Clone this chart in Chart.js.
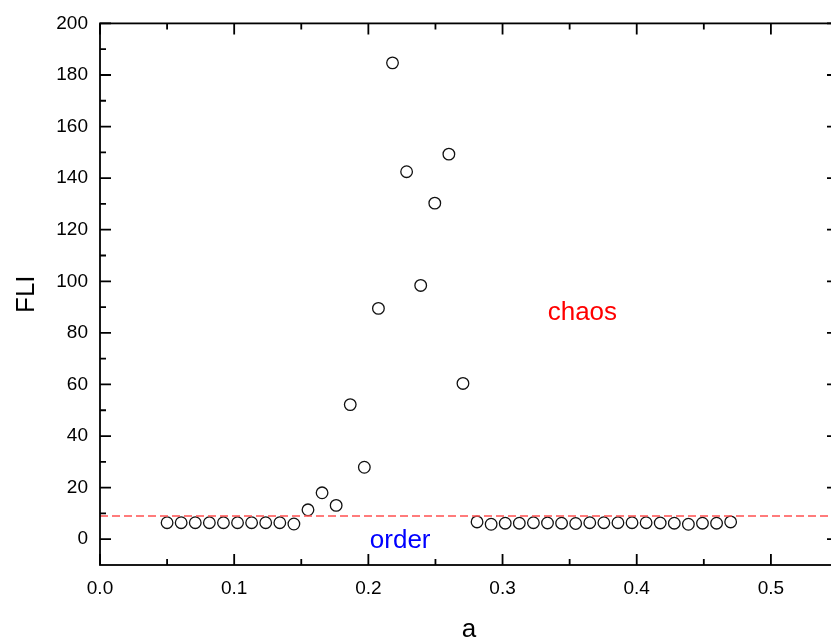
<!DOCTYPE html>
<html>
<head>
<meta charset="utf-8">
<script src="https://cdn.jsdelivr.net/npm/chart.js@4/dist/chart.umd.min.js"></script>
<style>
  html, body { margin: 0; padding: 0; background: #fff; overflow: hidden; }
  #wrap { width: 850px; height: 642px; position: relative; }
</style>
</head>
<body>
<div id="wrap"><canvas id="myChart"></canvas></div>
<script>
'use strict';

// values
let aValues = [0.05, 0.0605, 0.071, 0.0815, 0.092, 0.1025, 0.113, 0.1235, 0.134, 0.1445,
  0.155, 0.1655, 0.176, 0.1865, 0.197, 0.2075, 0.218, 0.2285, 0.239, 0.2495,
  0.26, 0.2705, 0.281, 0.2915, 0.302, 0.3125, 0.323, 0.3335, 0.344, 0.3545,
  0.365, 0.3755, 0.386, 0.3965, 0.407, 0.4175, 0.428, 0.4385, 0.449, 0.4595, 0.47];
let fliValues = [6.4, 6.4, 6.4, 6.4, 6.4, 6.4, 6.4, 6.4, 6.4, 5.9,
  11.4, 18.0, 13.1, 52.2, 27.9, 89.5, 184.7, 142.5, 98.4, 130.3,
  149.3, 60.4, 6.7, 5.8, 6.2, 6.2, 6.4, 6.3, 6.2, 6.1,
  6.4, 6.4, 6.4, 6.4, 6.4, 6.3, 6.2, 5.8, 6.2, 6.2, 6.7];
let threshold = 9;

let xTicks = [0, 0.1, 0.2, 0.3, 0.4, 0.5];
let xMinorTicks = [0.05, 0.15, 0.25, 0.35, 0.45];
let yTicks = [0, 20, 40, 60, 80, 100, 120, 140, 160, 180, 200];
let yMinorTicks = [10, 30, 50, 70, 90, 110, 130, 150, 170, 190];

let notes = [
  {text: 'chaos', a: 0.3595, fli: 87.7, color: '#ff0000'},
  {text: 'order', a: 0.2237, fli: -0.5, color: '#0000ff'}
];

let points = [];
for (let i = 0; i < aValues.length; i++) {
  points.push({x: aValues[i], y: fliValues[i]});
}

// frame with inward ticks on all four sides
let framePlugin = {
  id: 'frame',
  afterDraw(chart) {
    let ctx = chart.ctx;
    let area = chart.chartArea;
    let xs = chart.scales.x;
    let ys = chart.scales.y;
    ctx.save();
    ctx.strokeStyle = '#000';
    ctx.lineWidth = 1.8;
    ctx.strokeRect(area.left, area.top, area.right - area.left, area.bottom - area.top);
    function xTick(v, len) {
      let px = xs.getPixelForValue(v);
      ctx.beginPath();
      ctx.moveTo(px, area.bottom); ctx.lineTo(px, area.bottom - len);
      ctx.moveTo(px, area.top); ctx.lineTo(px, area.top + len);
      ctx.stroke();
    }
    function yTick(v, len) {
      let py = ys.getPixelForValue(v);
      ctx.beginPath();
      ctx.moveTo(area.left, py); ctx.lineTo(area.left + len, py);
      ctx.moveTo(area.right, py); ctx.lineTo(area.right - len, py);
      ctx.stroke();
    }
    xTicks.forEach(v => xTick(v, 11));
    xMinorTicks.forEach(v => xTick(v, 6));
    yTicks.forEach(v => yTick(v, 11));
    yMinorTicks.forEach(v => yTick(v, 6));
    ctx.restore();
  }
};

let notesPlugin = {
  id: 'notes',
  afterDatasetsDraw(chart) {
    let ctx = chart.ctx;
    ctx.save();
    ctx.font = '26px "Liberation Sans", Arial, sans-serif';
    ctx.textAlign = 'center';
    ctx.textBaseline = 'middle';
    notes.forEach(n => {
      ctx.fillStyle = n.color;
      ctx.fillText(n.text, chart.scales.x.getPixelForValue(n.a), chart.scales.y.getPixelForValue(n.fli));
    });
    ctx.restore();
  }
};

let ctx = document.getElementById('myChart').getContext('2d');
let myChart = new Chart(ctx, {
  type: 'scatter',
  data: {
    datasets: [{
      label: 'FLI',
      data: points,
      order: 1,
      pointStyle: 'circle',
      pointRadius: 5.8,
      pointBorderWidth: 1.3,
      pointBorderColor: '#111',
      pointBackgroundColor: 'rgba(0,0,0,0)',
      showLine: false
    }, {
      label: 'threshold',
      type: 'line',
      order: 0,
      data: [{x: 0, y: threshold}, {x: 0.55, y: threshold}],
      borderColor: '#ff5050',
      borderWidth: 1.4,
      borderDash: [8, 4],
      pointRadius: 0,
      fill: false
    }]
  },
  options: {
    responsive: true,
    maintainAspectRatio: false,
    animation: false,
    layout: {padding: {left: 0, top: 22, right: 12, bottom: 0}},
    plugins: {
      legend: {display: false},
      tooltip: {enabled: false}
    },
    scales: {
      x: {
        type: 'linear',
        min: 0,
        max: 0.55,
        afterBuildTicks: scale => { scale.ticks = xTicks.map(v => ({value: v})); },
        afterFit: scale => { scale.height = 77; },
        grid: {display: false, drawTicks: false},
        border: {display: false},
        ticks: {
          padding: 12,
          color: '#000',
          font: {family: '"Liberation Sans", Arial, sans-serif', size: 19},
          callback: v => Number(v).toFixed(1)
        },
        title: {
          display: true,
          text: 'a',
          color: '#000',
          font: {family: '"Liberation Sans", Arial, sans-serif', size: 26, lineHeight: 0.9},
          padding: {top: 0, bottom: 0}
        }
      },
      y: {
        type: 'linear',
        min: -10,
        max: 200,
        afterBuildTicks: scale => { scale.ticks = yTicks.map(v => ({value: v})); },
        afterFit: scale => { scale.width = 100; },
        grid: {display: false, drawTicks: false},
        border: {display: false},
        ticks: {
          padding: 12,
          color: '#000',
          font: {family: '"Liberation Sans", Arial, sans-serif', size: 19}
        },
        title: {
          display: true,
          text: 'FLI',
          color: '#000',
          font: {family: '"Liberation Sans", Arial, sans-serif', size: 26},
          padding: {top: 11, bottom: 0}
        }
      }
    }
  },
  plugins: [framePlugin, notesPlugin]
});
</script>
</body>
</html>
